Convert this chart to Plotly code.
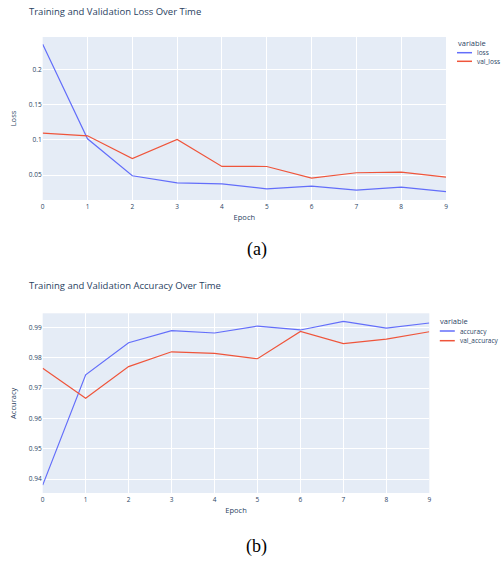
import plotly.graph_objects as go

epochs = [0, 1, 2, 3, 4, 5, 6, 7, 8, 9]
loss = [0.2353, 0.1014, 0.0490, 0.0390, 0.0376, 0.0304, 0.0343, 0.0286, 0.0329, 0.0266]
val_loss = [0.1096, 0.1057, 0.0733, 0.1004, 0.0623, 0.0622, 0.0457, 0.0533, 0.0543, 0.0471]
accuracy = [0.9380, 0.9744, 0.9850, 0.9890, 0.9882, 0.9905, 0.9892, 0.9920, 0.9898, 0.9915]
val_accuracy = [0.9766, 0.9667, 0.9771, 0.9820, 0.9815, 0.9797, 0.9887, 0.9847, 0.9862, 0.9886]

W, H = 501, 561
BLUE = "#636EFA"
RED = "#EF553B"
FONT = "Open Sans"
TXT = "#2a3f5f"

def px(x):
    return x / W

def py(y):
    return 1 - y / H

fig = go.Figure()
fig.add_trace(go.Scatter(x=epochs, y=loss, mode="lines", name="loss",
                         line=dict(color=BLUE, width=1.2), xaxis="x", yaxis="y"))
fig.add_trace(go.Scatter(x=epochs, y=val_loss, mode="lines", name="val_loss",
                         line=dict(color=RED, width=1.2), xaxis="x", yaxis="y"))
fig.add_trace(go.Scatter(x=epochs, y=accuracy, mode="lines", name="accuracy",
                         line=dict(color=BLUE, width=1.2), xaxis="x2", yaxis="y2"))
fig.add_trace(go.Scatter(x=epochs, y=val_accuracy, mode="lines", name="val_accuracy",
                         line=dict(color=RED, width=1.2), xaxis="x2", yaxis="y2"))

tickfont = dict(family=FONT, size=6.5, color=TXT)
axtitle = dict(family=FONT, size=7.5, color=TXT)

common_x = dict(showgrid=True, gridcolor="white", zeroline=False, tickfont=tickfont,
                dtick=1, ticks="", linecolor="white", automargin=False)
common_y = dict(showgrid=True, gridcolor="white", zeroline=False, tickfont=tickfont, ticks="",
                automargin=True)

fig.update_layout(
    width=W, height=H,
    margin=dict(l=0, r=0, t=0, b=0, autoexpand=False),
    paper_bgcolor="white",
    plot_bgcolor="#E5ECF6",
    font=dict(family=FONT, color=TXT),
    showlegend=False,
    xaxis=dict(domain=[px(42.7), px(446)], anchor="y", range=[0, 9],
               title=dict(text="Epoch", font=axtitle, standoff=4), **common_x),
    yaxis=dict(domain=[py(200), py(37)], anchor="x", range=[0.0147, 0.2457], dtick=0.05,
               title=dict(text="Loss", font=axtitle, standoff=11), **common_y),
    xaxis2=dict(domain=[px(42.7), px(429.3)], anchor="y2", range=[0, 9],
                title=dict(text="Epoch", font=axtitle, standoff=4), **common_x),
    yaxis2=dict(domain=[py(493.3), py(313.3)], anchor="x2", range=[0.9353, 0.9947], dtick=0.01,
                title=dict(text="Accuracy", font=axtitle, standoff=11), **common_y),
)

def text_ann(text, x, y, size, anchor="left", family=FONT, color=TXT):
    return dict(text=text, x=px(x), y=py(y), xref="paper", yref="paper",
                xanchor=anchor, yanchor="middle", showarrow=False,
                font=dict(family=family, size=size, color=color))

annotations = [
    text_ann("Training and Validation Loss Over Time", 27, 11, 9.5),
    text_ann("Training and Validation Accuracy Over Time", 27, 285, 9.5),
    text_ann("(a)", 256.5, 250, 18, anchor="center", family="Liberation Serif", color="black"),
    text_ann("(b)", 256.5, 546, 18, anchor="center", family="Liberation Serif", color="black"),
]
shapes = []

# legends drawn compactly (short sample lines like the reference)
def add_legend(x0, ytitle, rows, names, colors):
    annotations.append(text_ann("variable", x0, ytitle, 7.5))
    for yy, nm, col in zip(rows, names, colors):
        shapes.append(dict(type="line", xref="paper", yref="paper",
                           x0=px(x0 + 1.5), x1=px(x0 + 16.5), y0=py(yy), y1=py(yy),
                           line=dict(color=col, width=1.5)))
        annotations.append(text_ann(nm, x0 + 19.5, yy, 6.5))

add_legend(455.5, 43, [52.7, 61.3], ["loss", "val_loss"], [BLUE, RED])
add_legend(438.3, 320.7, [331, 340.7], ["accuracy", "val_accuracy"], [BLUE, RED])

fig.update_layout(annotations=annotations, shapes=shapes)

fig.write_html(
    "out.html",
    config={"displayModeBar": False},
    post_script="document.body.style.margin='0';document.body.style.overflow='hidden';"
                "document.documentElement.style.overflow='hidden';",
)
